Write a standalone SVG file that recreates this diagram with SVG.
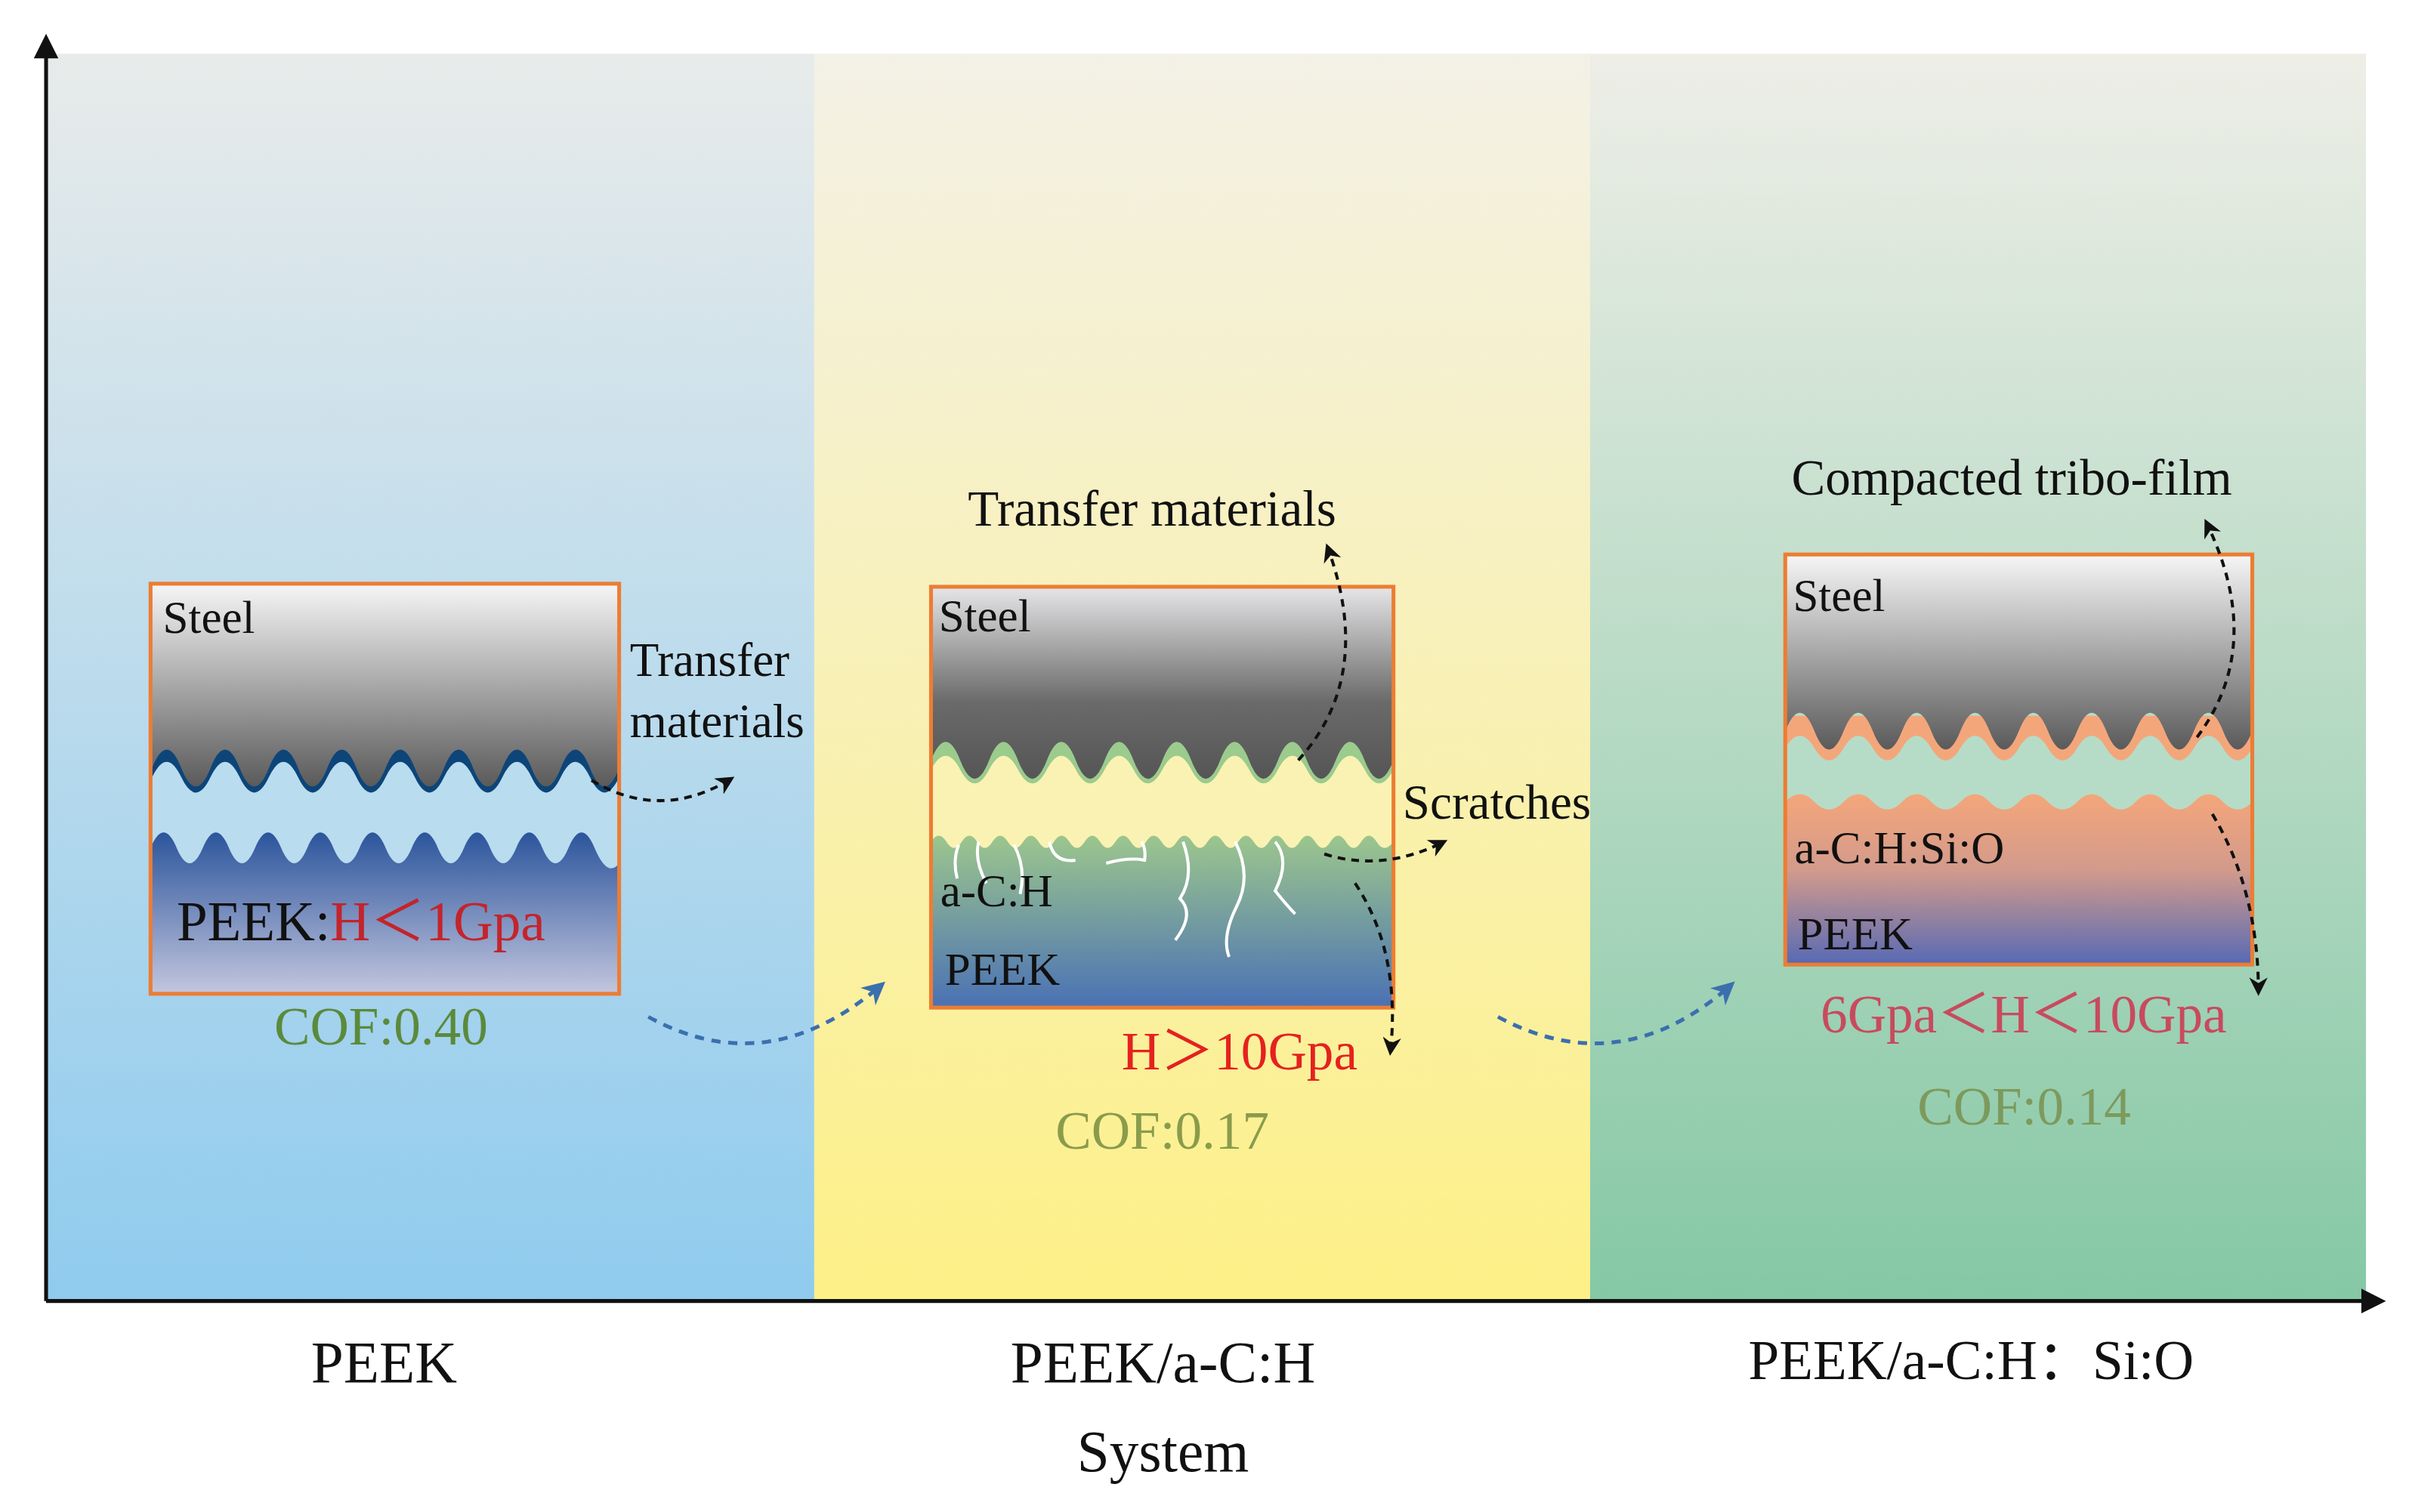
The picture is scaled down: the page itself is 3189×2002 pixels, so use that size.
<svg xmlns="http://www.w3.org/2000/svg" width="3189" height="2002" viewBox="0 0 3189 2002">
<style>
text{font-family:"Liberation Serif","Noto Sans CJK SC",serif;fill:#111}
.bx{fill:none;stroke:#ec7d33;stroke-width:2.5}
.da{fill:none;stroke:#111;stroke-width:2;stroke-dasharray:5 4;marker-end:url(#ah)}
.db{fill:none;stroke:#3b6fae;stroke-width:2.5;stroke-dasharray:6 5;marker-end:url(#ahb)}
.sc{fill:none;stroke:#fff;stroke-width:2}
</style>
<defs>
<linearGradient id="bg1" x1="0" y1="0" x2="0" y2="1"><stop offset="0" stop-color="#e8ebea"/><stop offset="1" stop-color="#8fcbee"/></linearGradient>
<linearGradient id="bg2" x1="0" y1="0" x2="0" y2="1"><stop offset="0" stop-color="#f3f1e6"/><stop offset="1" stop-color="#fdf087"/></linearGradient>
<linearGradient id="bg3" x1="0" y1="0" x2="0" y2="1"><stop offset="0" stop-color="#eeeee7"/><stop offset="1" stop-color="#85c8a5"/></linearGradient>
<linearGradient id="st" x1="0" y1="0" x2="0" y2="1"><stop offset="0" stop-color="#f6f6f6"/><stop offset="1" stop-color="#5a5a5a"/></linearGradient>
<linearGradient id="st2" x1="0" y1="0" x2="0" y2="1"><stop offset="0" stop-color="#e6e6e8"/><stop offset="0.6" stop-color="#6a6a6a"/><stop offset="1" stop-color="#555"/></linearGradient>
<linearGradient id="pk1" x1="0" y1="0" x2="0" y2="1"><stop offset="0" stop-color="#2c559c"/><stop offset="1" stop-color="#c3c6de"/></linearGradient>
<linearGradient id="pk2" x1="0" y1="0" x2="0" y2="1"><stop offset="0" stop-color="#9cc68d"/><stop offset="1" stop-color="#4a71b4"/></linearGradient>
<linearGradient id="pk3" x1="0" y1="0" x2="0" y2="1"><stop offset="0" stop-color="#f4a67a"/><stop offset="0.45" stop-color="#d29a8c"/><stop offset="1" stop-color="#5669b4"/></linearGradient>
<marker id="ah" viewBox="0 0 10 10" refX="8" refY="5" markerWidth="6" markerHeight="6" orient="auto"><path d="M0,0 L10,5 L0,10 L3,5 Z" fill="#111"/></marker>
<marker id="ahb" viewBox="0 0 10 10" refX="8" refY="5" markerWidth="6" markerHeight="6" orient="auto"><path d="M0,0 L10,5 L0,10 L3,5 Z" fill="#3b6fae"/></marker>
</defs>
<rect width="3189" height="2002" fill="#fff"/>
<g transform="scale(2.0338)">
<g id="background">
<rect x="30" y="35" width="500" height="812" fill="url(#bg1)"/>
<rect x="530" y="35" width="505" height="812" fill="url(#bg2)"/>
<rect x="1035" y="35" width="505" height="812" fill="url(#bg3)"/>
</g>
<g id="axes">
<path d="M30,847 V36 M30,847 H1540" stroke="#111" stroke-width="2.5" fill="none"/>
<path d="M30,22 L22,38 L38,38 Z" fill="#111"/>
<path d="M1553,847 L1537,839 L1537,855 Z" fill="#111"/>
<text x="250" y="900" font-size="38" text-anchor="middle">PEEK</text>
<text x="757" y="900" font-size="38" text-anchor="middle">PEEK/a-C:H</text>
<text x="757" y="958" font-size="38" text-anchor="middle">System</text>
<text x="1283" y="898" font-size="36" text-anchor="middle">PEEK/a-C:H：Si:O</text>
</g>
<g id="node-peek">
<rect x="98" y="380" width="305" height="267" fill="#b9dcef"/>
<path d="M98,486 H403 V506 Q393.5,526 384,506 T365,506 T346,506 T327,506 T308,506 T289,506 T270,506 T251,506 T232,506 T213,506 T194,506 T175,506 T156,506 T137,506 T118,506 T99,506 L98,506 Z" fill="#0d4579"/>
<path d="M98,380 H403 V500 Q393.5,524 384,500 T365,500 T346,500 T327,500 T308,500 T289,500 T270,500 T251,500 T232,500 T213,500 T194,500 T175,500 T156,500 T137,500 T118,500 T99,500 L98,500 Z" fill="url(#st)"/>
<path d="M98,552 Q106.5,532 115,552 T132,552 T149,552 T166,552 T183,552 T200,552 T217,552 T234,552 T251,552 T268,552 T285,552 T302,552 T319,552 T336,552 T353,552 T370,552 T387,552 T403,562 V647 H98 Z" fill="url(#pk1)"/>
<rect x="98" y="380" width="305" height="267" class="bx"/>
<text x="106" y="412" font-size="30">Steel</text>
<text x="115" y="612" font-size="36">PEEK:<tspan style="fill:#c3242c">H＜1Gpa</tspan></text>
<text x="248" y="680" font-size="35" text-anchor="middle" style="fill:#5b8a3c">COF:0.40</text>
<text x="410" y="440" font-size="31">Transfer</text>
<text x="410" y="480" font-size="31">materials</text>
</g>
<g id="node-peek-ach">
<rect x="606" y="382" width="301" height="274" fill="#faf2b2"/>
<path d="M606,482 H907 V501 Q897.6,519 888.2,501 T869.4,501 T850.6,501 T831.8,501 T813,501 T794.2,501 T775.4,501 T756.6,501 T737.8,501 T719,501 T700.2,501 T681.4,501 T662.6,501 T643.8,501 T625,501 T606,501 Z" fill="#9ccb8e"/>
<path d="M606,382 H907 V495 Q897.6,519 888.2,495 T869.4,495 T850.6,495 T831.8,495 T813,495 T794.2,495 T775.4,495 T756.6,495 T737.8,495 T719,495 T700.2,495 T681.4,495 T662.6,495 T643.8,495 T625,495 T606,495 Z" fill="url(#st2)"/>
<path d="M606,548 Q611,540 616,548 T626,548 T636,548 T646,548 T656,548 T666,548 T676,548 T686,548 T696,548 T706,548 T716,548 T726,548 T736,548 T746,548 T756,548 T766,548 T776,548 T786,548 T796,548 T806,548 T816,548 T826,548 T836,548 T846,548 T856,548 T866,548 T876,548 T886,548 T896,548 T907,548 V656 H606 Z" fill="url(#pk2)"/>
<path class="sc" d="M624,550 Q620,560 623,572 M637,548 Q634,560 642,575 M660,550 Q668,565 664,582 M683,548 Q686,562 700,560 M720,562 Q735,558 745,560 Q746,552 743,548 M770,548 Q778,570 768,585 Q778,595 765,612 M804,548 Q815,570 805,590 Q795,610 800,623 M830,548 Q840,560 830,580 Q838,590 843,595"/>
<rect x="606" y="382" width="301" height="274" class="bx"/>
<text x="611" y="411" font-size="30">Steel</text>
<text x="612" y="590" font-size="30">a-C:H</text>
<text x="615" y="641" font-size="30">PEEK</text>
<text x="630" y="342" font-size="33">Transfer materials</text>
<text x="913" y="533" font-size="32">Scratches</text>
<text x="730" y="696" font-size="35" style="fill:#e5211f">H＞10Gpa</text>
<text x="687" y="748" font-size="35" style="fill:#8a9b4c">COF:0.17</text>
</g>
<g id="node-peek-achsio">
<rect x="1162" y="361" width="304" height="267" fill="#b6dcc7"/>
<path d="M1162,466 H1466 V487 Q1456.5,503 1447,487 T1428,487 T1409,487 T1390,487 T1371,487 T1352,487 T1333,487 T1314,487 T1295,487 T1276,487 T1257,487 T1238,487 T1219,487 T1200,487 T1181,487 T1162,487 Z" fill="#f4a67b"/>
<path d="M1162,361 H1466 V476 Q1456.5,500 1447,476 T1428,476 T1409,476 T1390,476 T1371,476 T1352,476 T1333,476 T1314,476 T1295,476 T1276,476 T1257,476 T1238,476 T1219,476 T1200,476 T1181,476 T1162,476 Z" fill="url(#st)"/>
<path d="M1162,522 Q1171.5,512 1181,522 T1200,522 T1219,522 T1238,522 T1257,522 T1276,522 T1295,522 T1314,522 T1333,522 T1352,522 T1371,522 T1390,522 T1409,522 T1428,522 T1447,522 T1466,522 V628 H1162 Z" fill="url(#pk3)"/>
<rect x="1162" y="361" width="304" height="267" class="bx"/>
<text x="1167" y="398" font-size="30">Steel</text>
<text x="1168" y="562" font-size="30">a-C:H:Si:O</text>
<text x="1170" y="618" font-size="30">PEEK</text>
<text x="1166" y="322" font-size="33">Compacted tribo-film</text>
<text x="1185" y="672" font-size="35" style="fill:#c84a5e">6Gpa＜H＜10Gpa</text>
<text x="1248" y="732" font-size="35" style="fill:#7d9a5c">COF:0.14</text>
</g>
<g id="connectors">
<path class="da" d="M385,508 Q430,535 476,507"/>
<path class="db" d="M422,662 Q500,705 574,641"/>
<path class="da" d="M845,495 Q895,440 864,356"/>
<path class="da" d="M862,556 Q900,568 940,548"/>
<path class="da" d="M882,575 Q912,620 905,685"/>
<path class="db" d="M975,662 Q1055,705 1127,641"/>
<path class="da" d="M1430,480 Q1475,420 1436,340"/>
<path class="da" d="M1440,530 Q1470,580 1470,646"/>
</g>
</g>
</svg>
